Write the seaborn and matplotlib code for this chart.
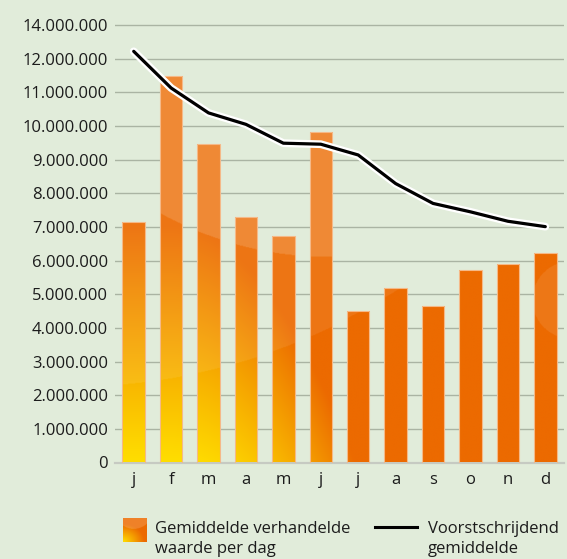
import numpy as np
import pandas as pd
import matplotlib
matplotlib.use("Agg")
import matplotlib.pyplot as plt
import matplotlib.patheffects as pe
from matplotlib.lines import Line2D
import seaborn as sns

# data
months = ["j", "f", "m", "a", "m", "j", "j", "a", "s", "o", "n", "d"]
daily_value = [7.15e6, 11.50e6, 9.47e6, 7.31e6, 6.74e6, 9.82e6,
               4.49e6, 5.20e6, 4.66e6, 5.71e6, 5.89e6, 6.23e6]
moving_avg = [12.22e6, 11.13e6, 10.39e6, 10.05e6, 9.49e6, 9.46e6,
              9.14e6, 8.29e6, 7.70e6, 7.45e6, 7.17e6, 7.01e6]
y_ticks = [i * 1e6 for i in range(14)]
y_tick_labels = ["0", "1.000.000", "2.000.000", "3.000.000", "4.000.000",
                 "5.000.000", "6.000.000", "7.000.000", "8.000.000",
                 "9.000.000", "10.000.000", "11.000.000", "12.000.000",
                 "14.000.000"]
bar_label = "Gemiddelde verhandelde\nwaarde per dag"
line_label = "Voorstschrijdend\ngemiddelde"

bg = "#e1ecda"
txt = "#1c1c1c"
plt.rcParams["font.family"] = ["Open Sans", "DejaVu Sans"]

W, H = 567, 559
fig = plt.figure(figsize=(W / 100, H / 100), dpi=100)
fig.patch.set_facecolor(bg)
ax = fig.add_axes([115 / W, (H - 462.5) / H, (564 - 115) / W, (462.5 - 15) / H])
ax.set_facecolor(bg)

df = pd.DataFrame({"pos": range(len(months)), "value": daily_value, "avg": moving_avg})

sns.barplot(data=df, x="pos", y="value", width=0.6, color="#ec6c00",
            errorbar=None, ax=ax, zorder=2)
bars = list(ax.patches)
for p in bars:
    p.set_facecolor("none")
    p.set_edgecolor("#f5b988")
    p.set_linewidth(0.8)

ymax = 13.3e6
ax.set_xlim(-0.5, 11.5)
ax.set_ylim(0, ymax)

# gradient fill (yellow bottom-left -> orange), plus glossy circles
gx = np.linspace(-0.5, 11.5, 700)
gy = np.linspace(0, ymax, 600)
X, Y = np.meshgrid(gx, gy)
px = 134 + 37.4 * X
py = 462.5 - 33.6e-6 * Y
t = (462.5 - py) / 235 + (np.clip(px - 170, 0, None) / 185) ** 2
t = np.clip(t, 0, 1)[..., None]
c_yel = np.array([255, 222, 0]) / 255
c_org = np.array([236, 106, 0]) / 255
img = c_yel + (c_org - c_yel) * t


def gloss(img, mask, a):
    img[mask] = img[mask] * (1 - a) + a
    return img


img = gloss(img, (px - 67) ** 2 + (py + 223) ** 2 < 611 ** 2, 0.08)
img = gloss(img, (px - 330) ** 2 + (py + 92) ** 2 < 350 ** 2, 0.14)
img = gloss(img, (px - 572) ** 2 + (py - 301) ** 2 < 39 ** 2, 0.09)

for p in bars:
    im = ax.imshow(img, extent=(-0.5, 11.5, 0, ymax), origin="lower",
                   aspect="auto", zorder=1.5, interpolation="bilinear")
    im.set_clip_path(p)

sns.lineplot(data=df, x="pos", y="avg", ax=ax, color="black", lw=2.3,
             solid_capstyle="round", zorder=4,
             path_effects=[pe.Stroke(linewidth=5.6, foreground="white"), pe.Normal()])

ax.set_xlim(-0.5, 11.5)
ax.set_ylim(0, ymax)
ax.set_yticks(y_ticks)
ax.set_yticklabels(y_tick_labels)
ax.set_xticks(range(len(months)))
ax.set_xticklabels(months)
ax.set_xlabel("")
ax.set_ylabel("")
ax.yaxis.grid(True, color="#aab4a3", lw=1)
ax.xaxis.grid(False)
ax.set_axisbelow(True)
for s in ["top", "right", "left"]:
    ax.spines[s].set_visible(False)
ax.spines["bottom"].set_color("#c6cac2")
ax.spines["bottom"].set_linewidth(1.6)
ax.spines["bottom"].set_zorder(1)
ax.tick_params(axis="both", length=0, labelsize=12, colors=txt)
ax.tick_params(axis="y", pad=5)
ax.tick_params(axis="x", pad=7)

# legend, drawn by hand
lax = fig.add_axes([123 / W, (H - 542) / H, 24 / W, 24 / H])
u, v = np.meshgrid(np.linspace(0, 1, 60), np.linspace(0, 1, 60))
lt = np.clip(np.sqrt((u / 0.9) ** 2 + (v / 0.75) ** 2), 0, 1)[..., None]
limg = c_yel + (c_org - c_yel) * lt
limg = gloss(limg, (u - 0.45) ** 2 + (v - 1.35) ** 2 < 0.8 ** 2, 0.16)
lax.imshow(limg, origin="lower", extent=(0, 1, 0, 1), aspect="auto")
lax.axis("off")

fig.text(155 / W, 1 - 521 / H, bar_label, ha="left", va="top",
         fontsize=12, color=txt, linespacing=1.3)
fig.add_artist(Line2D([375 / W, 417 / W], [1 - 527 / H, 1 - 527 / H],
                      color="black", lw=2.2, transform=fig.transFigure))
fig.text(428 / W, 1 - 521 / H, line_label, ha="left", va="top",
         fontsize=12, color=txt, linespacing=1.3)

fig.savefig("out.png", dpi=100, facecolor=bg)
